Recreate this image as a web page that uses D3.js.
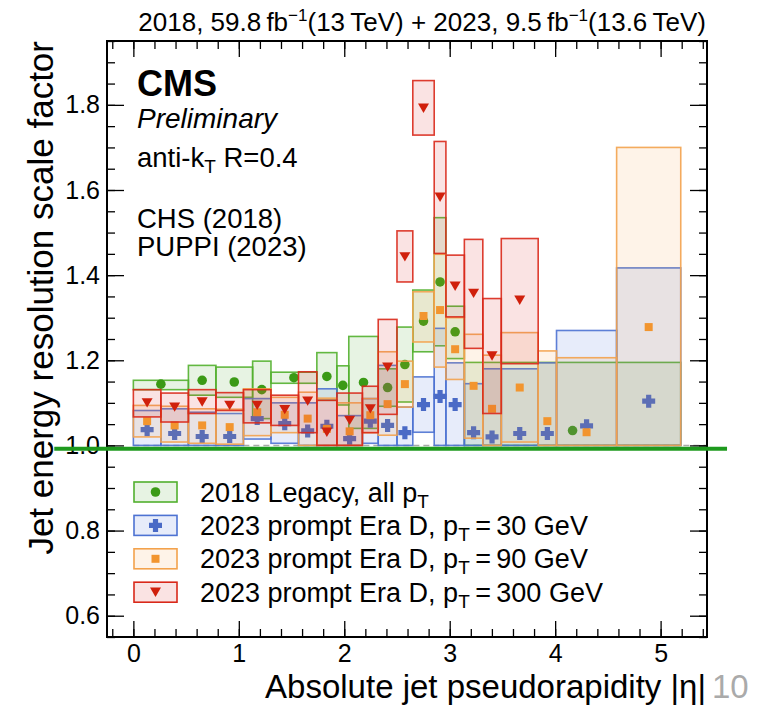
<!DOCTYPE html>
<html><head><meta charset="utf-8">
<script src="https://cdn.jsdelivr.net/npm/d3@7"></script>
<style>
body{margin:0;background:#fff}
svg{display:block}
text{font-family:"Liberation Sans",Arial,Helvetica,sans-serif;fill:#000}
</style>
</head><body>
<svg id="chart" width="758" height="705"></svg>
<script>
// ---------- data ----------
const edges2018 = [0,0.522,0.783,1.131,1.305,1.740,1.930,2.043,2.322,2.500,2.650,2.853,2.964,3.139,5.191];
const sf2018    = [1.144,1.153,1.149,1.131,1.159,1.162,1.141,1.148,1.136,1.190,1.292,1.384,1.267,1.035];
const sf2018Up  = [1.153,1.188,1.184,1.198,1.172,1.218,1.187,1.256,1.180,1.278,1.365,1.535,1.327,1.195];
const sf2018Dn  = [1.131,1.118,1.113,1.063,1.146,1.106,1.095,1.040,1.092,1.102,1.220,1.234,1.204,1.000];

const edges2023 = [0,0.261,0.522,0.783,1.044,1.305,1.566,1.740,1.930,2.172,2.322,2.500,2.650,2.853,2.964,3.139,3.314,3.489,3.839,4.013,4.583,5.191];

const sfPt30    = [1.037,1.028,1.021,1.021,1.063,1.051,1.034,1.045,1.016,1.057,1.047,1.030,1.096,1.115,1.096,1.030,1.020,1.028,1.028,1.046,1.104];
const sfPt30Up  = [1.082,1.086,1.078,1.075,1.110,1.100,1.100,1.133,1.070,1.110,1.188,1.090,1.161,1.275,1.194,1.145,1.180,1.180,1.194,1.270,1.417];
const sfPt30Dn  = [1.000,1.000,1.000,1.000,1.015,1.005,1.000,1.000,1.000,1.005,1.000,1.000,1.031,1.000,1.000,1.000,1.000,1.000,1.000,1.000,1.000];

const sfPt90    = [1.057,1.047,1.047,1.043,1.078,1.072,1.063,1.039,1.033,1.071,1.097,1.144,1.304,1.318,1.226,1.140,1.086,1.136,1.057,1.031,1.278];
const sfPt90Up  = [1.094,1.092,1.086,1.085,1.133,1.113,1.125,1.111,1.100,1.110,1.220,1.198,1.361,1.449,1.300,1.261,1.212,1.265,1.222,1.206,1.700];
const sfPt90Dn  = [1.020,1.008,1.005,1.003,1.023,1.030,1.000,1.000,1.000,1.030,1.024,1.090,1.243,1.184,1.155,1.017,1.000,1.008,1.000,1.000,1.000];

const sfPt300   = [1.100,1.090,1.102,1.094,1.094,1.084,1.104,1.031,1.059,1.086,1.184,1.443,1.792,1.583,1.374,1.357,1.210,1.341];
const sfPt300Up = [1.131,1.123,1.131,1.124,1.131,1.118,1.173,1.106,1.123,1.139,1.296,1.504,1.857,1.714,1.447,1.484,1.345,1.486];
const sfPt300Dn = [1.067,1.055,1.075,1.082,1.053,1.047,1.030,1.000,1.000,1.030,1.073,1.384,1.729,1.451,1.302,1.228,1.075,1.192];

const yTicks = [0.6,0.8,1.0,1.2,1.4,1.6,1.8];
const xTicks = [0,1,2,3,4,5];
const legendLabels = [
  ["2018 Legacy, all p","T",""],
  ["2023 prompt Era D, p","T","\u2009=\u200930 GeV"],
  ["2023 prompt Era D, p","T","\u2009=\u200990 GeV"],
  ["2023 prompt Era D, p","T","\u2009=\u2009300 GeV"]
];
const refLine = {x0:-0.75, x1:5.63, y:0.992};

// ---------- setup ----------
const svg = d3.select("#chart");
const L=107, R=707, T=41, B=637;
const x = d3.scaleLinear().domain([-0.25,5.44]).range([L,R]);
const y = d3.scaleLinear().domain([0.55,1.95]).range([B,T]);

svg.append("defs").append("clipPath").attr("id","plotclip")
  .append("rect").attr("x",L).attr("y",T).attr("width",R-L).attr("height",B-T);

const styles = {
  green:  {stroke:"#52b02e", fill:"rgba(70,160,40,0.13)",  mark:"#3b9a16"},
  blue:   {stroke:"#4d72d2", fill:"rgba(70,110,215,0.13)", mark:"#4a6ac6"},
  orange: {stroke:"#f3a24c", fill:"rgba(245,150,50,0.11)", mark:"#f2952f"},
  red:    {stroke:"#d9281a", fill:"rgba(215,40,40,0.13)",  mark:"#d0200c"}
};

const triDown = {draw(ctx, size){ const w=size, h=size*0.85; ctx.moveTo(-w/2,-h/2); ctx.lineTo(w/2,-h/2); ctx.lineTo(0,h/2); ctx.closePath(); }};
const plusT = {draw(ctx, size){ const a=size/2, t=size*0.2; ctx.moveTo(-t,-a); ctx.lineTo(t,-a); ctx.lineTo(t,-t); ctx.lineTo(a,-t); ctx.lineTo(a,t); ctx.lineTo(t,t); ctx.lineTo(t,a); ctx.lineTo(-t,a); ctx.lineTo(-t,t); ctx.lineTo(-a,t); ctx.lineTo(-a,-t); ctx.lineTo(-t,-t); ctx.closePath(); }};
const markers = {
  green:  d3.symbol().type(d3.symbolCircle).size(72),
  blue:   d3.symbol().type(plusT).size(13),
  orange: d3.symbol().type(d3.symbolSquare).size(64),
  red:    d3.symbol().type(triDown).size(11)
};

const plot = svg.append("g").attr("clip-path","url(#plotclip)");

// dashed reference at 1
plot.append("line").attr("x1",x(0)).attr("x2",R).attr("y1",y(1)).attr("y2",y(1))
  .attr("stroke","#aaa").attr("stroke-width",1.5).attr("stroke-dasharray","6,4");

function drawSeries(edges, vals, up, dn, key){
  const st = styles[key];
  const g = plot.append("g");
  const idx = d3.range(vals.length);
  g.selectAll("rect").data(idx).join("rect")
    .attr("x", i=>x(edges[i])).attr("width", i=>x(edges[i+1])-x(edges[i]))
    .attr("y", i=>y(up[i])).attr("height", i=>y(dn[i])-y(up[i]))
    .attr("fill", st.fill).attr("stroke", st.stroke).attr("stroke-width",1.6).attr("stroke-opacity",0.9);
  g.selectAll("path").data(idx).join("path")
    .attr("transform", i=>`translate(${x((edges[i]+edges[i+1])/2)},${y(vals[i])})`)
    .attr("d", markers[key]()).attr("fill", st.mark);
}
drawSeries(edges2018, sf2018, sf2018Up, sf2018Dn, "green");
drawSeries(edges2023, sfPt30, sfPt30Up, sfPt30Dn, "blue");
drawSeries(edges2023, sfPt90, sfPt90Up, sfPt90Dn, "orange");
drawSeries(edges2023, sfPt300, sfPt300Up, sfPt300Dn, "red");

// ---------- axes ----------
function axisG(axis, tr){ const g=svg.append("g").attr("transform",tr).call(axis); g.select(".domain").remove(); g.selectAll("line").attr("stroke","#000").attr("stroke-width",1.3); return g; }
const yMinor = d3.range(0.55,1.951,0.05).map(v=>+v.toFixed(2));
const xMinor = d3.range(-0.2,5.441,0.2).map(v=>+v.toFixed(2));
const fmtY = d3.format(".1f");

axisG(d3.axisLeft(y).tickValues(yMinor).tickSize(-8).tickFormat(""), `translate(${L},0)`);
axisG(d3.axisRight(y).tickValues(yMinor).tickSize(-8).tickFormat(""), `translate(${R},0)`);
axisG(d3.axisBottom(x).tickValues(xMinor).tickSize(-8).tickFormat(""), `translate(0,${B})`);
axisG(d3.axisTop(x).tickValues(xMinor).tickSize(-8).tickFormat(""), `translate(0,${T})`);
axisG(d3.axisRight(y).tickValues(yTicks).tickSize(-17).tickFormat(""), `translate(${R},0)`);
axisG(d3.axisTop(x).tickValues(xTicks).tickSize(-16).tickFormat(""), `translate(0,${T})`);
const ya = axisG(d3.axisLeft(y).tickValues(yTicks).tickSize(-17).tickPadding(7).tickFormat(fmtY), `translate(${L},0)`);
ya.selectAll("text").attr("font-size",25).attr("font-family","Liberation Sans, Arial, sans-serif").attr("fill","#000");
const xa = axisG(d3.axisBottom(x).tickValues(xTicks).tickSize(-16).tickPadding(7).tickFormat(d3.format("d")), `translate(0,${B})`);
xa.selectAll("text").attr("font-size",25).attr("font-family","Liberation Sans, Arial, sans-serif").attr("fill","#000");

// frame
svg.append("rect").attr("x",L).attr("y",T).attr("width",R-L).attr("height",B-T)
  .attr("fill","none").attr("stroke","#000").attr("stroke-width",2);

// thick green line
svg.append("line").attr("x1",x(refLine.x0)).attr("x2",x(refLine.x1)).attr("y1",y(refLine.y)).attr("y2",y(refLine.y))
  .attr("stroke","#1e9a1e").attr("stroke-width",4);

// ---------- legend ----------
const keys=["green","blue","orange","red"];
const lg = svg.append("g");
keys.forEach((k,i)=>{
  const cy = 492 + i*33.4;
  const st = styles[k];
  lg.append("rect").attr("x",134).attr("y",cy-10).attr("width",43).attr("height",20)
    .attr("fill",st.fill).attr("stroke",st.stroke).attr("stroke-width",1.6);
  lg.append("path").attr("transform",`translate(155.5,${cy})`).attr("d",markers[k]()).attr("fill",st.mark);
  const t = lg.append("text").attr("x",200).attr("y",cy+9.5).attr("font-size",27);
  const lab = legendLabels[i];
  t.append("tspan").text(lab[0]);
  t.append("tspan").attr("font-size",19).attr("dy",6).text(lab[1]);
  t.append("tspan").attr("dy",-6).text(lab[2]);
});

// ---------- texts ----------
const headText = svg.append("text").attr("x",706).attr("y",31).attr("text-anchor","end").attr("font-size",26);
headText.append("tspan").text("2018, 59.8\u2009fb");
headText.append("tspan").attr("font-size",17).attr("dy",-10).text("−1");
headText.append("tspan").attr("dy",10).text("(13\u2009TeV) + 2023, 9.5\u2009fb");
headText.append("tspan").attr("font-size",17).attr("dy",-10).text("−1");
headText.append("tspan").attr("dy",10).text("(13.6\u2009TeV)");

svg.append("text").attr("x",137).attr("y",96).attr("font-size",36).attr("font-weight","bold").text("CMS");
svg.append("text").attr("x",137).attr("y",128).attr("font-size",28).attr("font-style","italic").text("Preliminary");
const ak = svg.append("text").attr("x",137).attr("y",167).attr("font-size",27.5);
ak.append("tspan").text("anti-k");
ak.append("tspan").attr("font-size",19).attr("dy",6).text("T");
ak.append("tspan").attr("dy",-6).text(" R=0.4");
svg.append("text").attr("x",137).attr("y",228).attr("font-size",27.5).text("CHS (2018)");
svg.append("text").attr("x",137).attr("y",256).attr("font-size",27.5).text("PUPPI (2023)");

svg.append("text").attr("transform","translate(53,41) rotate(-90)").attr("text-anchor","end")
  .attr("font-size",35).text("Jet energy resolution scale factor");
svg.append("text").attr("x",706).attr("y",697.5).attr("text-anchor","end").attr("font-size",33)
  .text("Absolute jet pseudorapidity |η|");
svg.append("text").attr("x",712).attr("y",697.5).attr("font-size",33).style("fill","#aaa").text("10");
</script>
</body></html>
